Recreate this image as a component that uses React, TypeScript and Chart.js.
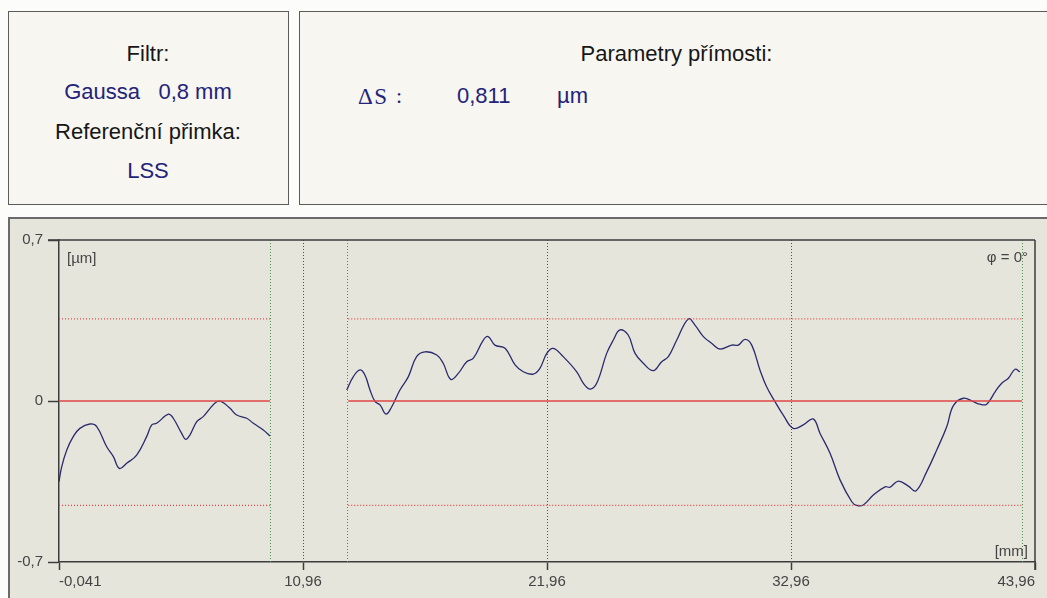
import React, { useEffect, useRef } from 'react';
import { Chart, registerables } from 'chart.js';

Chart.register(...registerables);

// ---- data ----
const xTickValues = [-0.041, 10.96, 21.96, 32.96, 43.96];
const xTickLabels = ['-0,041', '10,96', '21,96', '32,96', '43,96'];
const yTickValues = [-0.7, 0, 0.7];
const yTickLabels = ['-0,7', '0', '0,7'];

const seg1X = [-0.041, 0.08, 0.31, 0.6, 0.9, 1.35, 1.66, 2.11, 2.41, 2.68, 3.01, 3.46, 3.91, 4.14, 4.36, 4.89, 5.11, 5.49, 5.67, 5.86, 6.17, 6.46, 6.77, 7.07, 7.29, 7.67, 7.97, 8.42, 8.72, 9.17, 9.47];
const seg1Y = [-0.351, -0.286, -0.213, -0.155, -0.119, -0.1, -0.111, -0.199, -0.242, -0.293, -0.271, -0.235, -0.155, -0.104, -0.097, -0.057, -0.075, -0.141, -0.167, -0.148, -0.09, -0.068, -0.032, -0.003, -0.003, -0.032, -0.061, -0.075, -0.097, -0.126, -0.152];

const seg2X = [12.93, 13.23, 13.53, 13.75, 13.98, 14.21, 14.43, 14.7, 14.96, 15.33, 15.71, 16.08, 16.46, 16.99, 17.28, 17.62, 17.96, 18.34, 18.64, 19.09, 19.31, 19.61, 20.07, 20.52, 20.89, 21.34, 21.64, 21.95, 22.24, 22.69, 23.3, 23.6, 23.9, 24.2, 24.65, 24.95, 25.25, 25.62, 25.93, 26.3, 26.75, 27.13, 27.43, 27.81, 28.33, 28.63, 29.01, 29.38, 29.76, 30.29, 30.58, 30.89, 31.19, 31.56, 31.86, 32.24, 32.61, 33.06, 33.51, 33.96, 34.27, 34.72, 35.17, 35.7, 35.92, 36.22, 36.67, 37.2, 37.42, 37.8, 38.25, 38.59, 39.08, 39.53, 39.98, 40.28, 40.73, 41.18, 41.48, 41.78, 42.16, 42.46, 42.76, 43.06, 43.28];
const seg2Y = [0.048, 0.106, 0.135, 0.113, 0.048, -0.003, -0.017, -0.057, -0.025, 0.048, 0.106, 0.193, 0.214, 0.2, 0.164, 0.094, 0.12, 0.171, 0.186, 0.265, 0.28, 0.243, 0.229, 0.157, 0.127, 0.117, 0.142, 0.207, 0.229, 0.193, 0.127, 0.077, 0.052, 0.077, 0.207, 0.265, 0.309, 0.287, 0.207, 0.164, 0.132, 0.171, 0.193, 0.265, 0.357, 0.33, 0.28, 0.251, 0.226, 0.243, 0.243, 0.268, 0.243, 0.135, 0.062, -0.003, -0.061, -0.119, -0.104, -0.078, -0.141, -0.227, -0.343, -0.438, -0.454, -0.452, -0.409, -0.373, -0.375, -0.348, -0.37, -0.391, -0.307, -0.213, -0.112, -0.02, 0.012, -0.003, -0.014, -0.014, 0.04, 0.077, 0.099, 0.138, 0.127];

const rangeStarts = [-0.041, 13.0];
const rangeEnds = [9.47, 43.37];
const meanLevel = 0;
const upperLevel = 0.357;
const lowerLevel = -0.454;
const boundaryLines = [9.47, 12.93, 43.37];
const gridLines = [10.96, 21.96, 32.96];

const FONT = '"Liberation Sans", Arial, sans-serif';
const SERIF = '"Liberation Serif", "DejaVu Serif", serif';
const AXIS = '#3c3c3c';
const NAVY = '#23237a';

const framePlugin = {
  id: 'frameLines',
  beforeDatasetsDraw(chart: any) {
    const { ctx, chartArea, scales } = chart;
    const xs = scales.x;
    ctx.save();
    ctx.lineWidth = 1;
    ctx.setLineDash([1, 2]);
    gridLines.forEach((v) => {
      const px = Math.round(xs.getPixelForValue(v)) + 0.5;
      ctx.strokeStyle = '#505050';
      ctx.beginPath();
      ctx.moveTo(px, chartArea.top);
      ctx.lineTo(px, chartArea.bottom);
      ctx.stroke();
    });
    boundaryLines.forEach((v) => {
      const px = Math.round(xs.getPixelForValue(v)) + 0.5;
      ctx.strokeStyle = '#4f924f';
      ctx.beginPath();
      ctx.moveTo(px, chartArea.top);
      ctx.lineTo(px, chartArea.bottom);
      ctx.stroke();
    });
    ctx.restore();
  },
  afterDraw(chart: any) {
    const { ctx, chartArea } = chart;
    ctx.save();
    ctx.strokeStyle = AXIS;
    ctx.lineWidth = 1.5;
    ctx.beginPath();
    ctx.moveTo(chartArea.left - 11, chartArea.top);
    ctx.lineTo(chartArea.right, chartArea.top);
    ctx.moveTo(chartArea.right, chartArea.top);
    ctx.lineTo(chartArea.right, chartArea.bottom + 8);
    ctx.stroke();
    ctx.restore();
  },
};

function App() {
  const ref = useRef<HTMLCanvasElement | null>(null);

  useEffect(() => {
    if (!ref.current) return;
    const refSets: any[] = [];
    rangeStarts.forEach((s, i) => {
      const e = rangeEnds[i];
      refSets.push({
        data: [{ x: s, y: upperLevel }, { x: e, y: upperLevel }],
        borderColor: '#e04848', borderWidth: 1.2, borderDash: [1, 2], pointRadius: 0,
      });
      refSets.push({
        data: [{ x: s, y: lowerLevel }, { x: e, y: lowerLevel }],
        borderColor: '#e04040', borderWidth: 1.4, borderDash: [1, 2], pointRadius: 0,
      });
      refSets.push({
        data: [{ x: s, y: meanLevel }, { x: e, y: meanLevel }],
        borderColor: '#e04646', borderWidth: 1.6, pointRadius: 0,
      });
    });
    const profile = (xs: number[], ys: number[]) => ({
      data: xs.map((x, i) => ({ x, y: ys[i] })),
      borderColor: '#2a2a6e', borderWidth: 1.3, pointRadius: 0, tension: 0.4,
    });

    const chart = new Chart(ref.current, {
      type: 'line',
      data: { datasets: [...refSets, profile(seg1X, seg1Y), profile(seg2X, seg2Y)] },
      options: {
        animation: false,
        responsive: false,
        devicePixelRatio: 1,
        layout: { padding: { left: 0, top: 240, right: 12, bottom: 0 } },
        plugins: { legend: { display: false }, tooltip: { enabled: false } },
        scales: {
          x: {
            type: 'linear',
            min: -0.041,
            max: 43.96,
            afterBuildTicks: (s: any) => { s.ticks = xTickValues.map((v) => ({ value: v })); },
            afterFit: (s: any) => { s.height = 36; },
            ticks: {
              align: 'inner',
              autoSkip: false,
              maxRotation: 0,
              padding: 3,
              color: '#444',
              font: { family: FONT, size: 15 },
              callback: (_v: any, i: number) => xTickLabels[i],
            },
            grid: { drawOnChartArea: false, drawTicks: true, tickLength: 8, tickColor: AXIS, tickWidth: 1.5 },
            border: { display: true, color: AXIS, width: 1.5 },
          },
          y: {
            type: 'linear',
            min: -0.7,
            max: 0.7,
            afterBuildTicks: (s: any) => { s.ticks = yTickValues.map((v) => ({ value: v })); },
            afterFit: (s: any) => { s.width = 59; },
            ticks: {
              autoSkip: false,
              padding: 5,
              color: '#444',
              font: { family: FONT, size: 15 },
              callback: (_v: any, i: number) => yTickLabels[i],
            },
            grid: { drawOnChartArea: false, drawTicks: true, tickLength: 11, tickColor: AXIS, tickWidth: 1.5 },
            border: { display: true, color: AXIS, width: 1.5 },
          },
        },
      } as any,
      plugins: [framePlugin],
    });
    return () => chart.destroy();
  }, []);

  const abs = (left: number, cy: number, size: number, color: string, text: string, width?: number, align: any = 'center', family = FONT, spacing = 0) => (
    <div
      style={{
        position: 'absolute', left, top: cy - size * 0.49, width, textAlign: align,
        fontSize: size, lineHeight: `${size}px`, color, fontFamily: family, whiteSpace: 'pre',
        letterSpacing: spacing,
      }}
    >
      {text}
    </div>
  );

  return (
    <div style={{ position: 'fixed', left: 0, top: 0, width: 1047, height: 598, overflow: 'hidden', background: '#fcfcfa', fontFamily: FONT }}>
      <div style={{ position: 'absolute', left: 8, top: 11, width: 281, height: 194, boxSizing: 'border-box', border: '1.5px solid #5c5c5c', background: '#f7f6f1' }} />
      <div style={{ position: 'absolute', left: 299, top: 11, width: 760, height: 194, boxSizing: 'border-box', border: '1.5px solid #5c5c5c', background: '#f7f6f1' }} />
      {abs(9, 53.5, 22, '#161616', 'Filtr:', 278)}
      {abs(9, 91.5, 22, NAVY, 'Gaussa   0,8 mm', 278)}
      {abs(9, 131.5, 22, '#161616', 'Referenční přimka:', 278)}
      {abs(9, 171, 22, NAVY, 'LSS', 278)}
      {abs(300, 53.5, 22, '#161616', 'Parametry přímosti:', 753)}
      {abs(358, 96, 23, NAVY, 'ΔS', undefined, 'left', SERIF, 1.5)}
      {abs(396, 96, 22, NAVY, ':', undefined, 'left', SERIF)}
      {abs(457, 95.5, 22, NAVY, '0,811', undefined, 'left')}
      {abs(557, 95.5, 22, NAVY, 'µm', undefined, 'left')}
      <div style={{ position: 'absolute', left: 8, top: 217, width: 1100, height: 420, boxSizing: 'border-box', borderTop: '2px solid #6a6a6a', borderLeft: '2px solid #6a6a6a', background: '#e6e5dc' }} />
      <canvas ref={ref} width={1047} height={598} style={{ position: 'absolute', left: 0, top: 0, width: 1047, height: 598 }} />
      {abs(67, 257, 15, '#444', '[µm]', undefined, 'left')}
      {abs(900, 256, 15, '#444', 'φ = 0°', 128, 'right')}
      {abs(900, 550, 15, '#444', '[mm]', 128, 'right')}
    </div>
  );
}

export default App;
